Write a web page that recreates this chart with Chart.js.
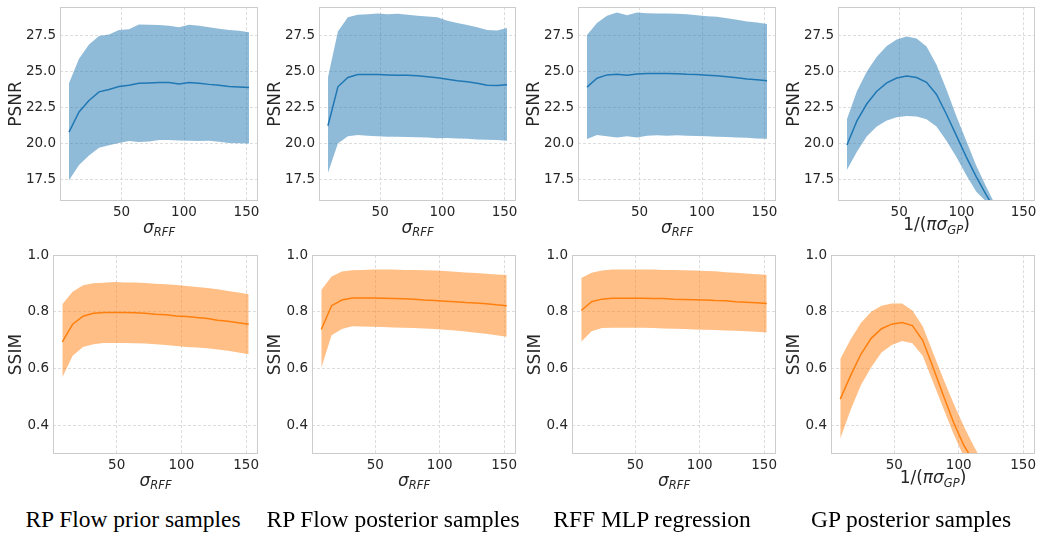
<!DOCTYPE html>
<html>
<head>
<meta charset="utf-8">
<script src="https://cdn.jsdelivr.net/npm/chart.js@4.4.1/dist/chart.umd.min.js"></script>
<style>
  html, body { margin:0; padding:0; background:#fff; }
  body { width:1038px; height:533px; overflow:hidden; position:relative; }
  .panel { position:absolute; }
  .caption { position:absolute; top:507px; font-family:'Liberation Serif', serif; font-size:23.5px; line-height:24px; color:#000; white-space:nowrap; transform:translateX(-50%); }
</style>
</head>
<body>
<script>
// x positions shared by every panel
const sigma = [8, 16, 24, 32, 40, 48, 56, 64, 72, 80, 88, 96, 104, 112, 120, 128, 136, 144, 152];
const xTicks = [50, 100, 150];
const psnrTicks = [17.5, 20, 22.5, 25, 27.5];
const ssimTicks = [0.4, 0.6, 0.8, 1.0];
const captions = ['RP Flow prior samples', 'RP Flow posterior samples', 'RFF MLP regression', 'GP posterior samples'];

// PSNR
const priorPsnrMean = [20.8, 22.2, 23.0, 23.6, 23.76, 23.97, 24.06, 24.2, 24.22, 24.25, 24.25, 24.15, 24.25, 24.2, 24.12, 24.06, 23.97, 23.93, 23.9];
const priorPsnrHigh = [24.2, 25.9, 26.9, 27.48, 27.6, 27.9, 27.96, 28.28, 28.27, 28.25, 28.2, 28.1, 28.27, 28.2, 28.1, 28.0, 27.9, 27.85, 27.75];
const priorPsnrLow = [17.45, 18.5, 19.17, 19.7, 19.88, 20.04, 20.18, 20.1, 20.15, 20.24, 20.24, 20.22, 20.2, 20.18, 20.2, 20.12, 20.04, 20.02, 20.0];

const postPsnrMean = [21.24, 23.95, 24.6, 24.8, 24.8, 24.8, 24.78, 24.76, 24.76, 24.72, 24.65, 24.58, 24.48, 24.38, 24.3, 24.2, 24.06, 24.05, 24.1];
const postPsnrHigh = [24.6, 27.8, 28.8, 28.97, 29.0, 29.05, 29.0, 29.03, 28.97, 28.9, 28.85, 28.8, 28.55, 28.4, 28.25, 28.1, 27.9, 27.87, 28.05];
const postPsnrLow = [17.95, 20.0, 20.5, 20.6, 20.55, 20.5, 20.48, 20.48, 20.46, 20.44, 20.42, 20.37, 20.39, 20.35, 20.33, 20.28, 20.26, 20.24, 20.2];

const mlpPsnrMean = [23.93, 24.55, 24.78, 24.82, 24.76, 24.84, 24.88, 24.88, 24.88, 24.86, 24.82, 24.8, 24.76, 24.72, 24.65, 24.58, 24.5, 24.45, 24.38];
const mlpPsnrHigh = [27.55, 28.4, 28.9, 29.12, 28.93, 29.12, 29.08, 29.05, 29.05, 29.03, 29.0, 28.93, 28.87, 28.82, 28.72, 28.62, 28.5, 28.42, 28.32];
const mlpPsnrLow = [20.32, 20.6, 20.5, 20.42, 20.5, 20.42, 20.54, 20.57, 20.55, 20.57, 20.55, 20.52, 20.5, 20.48, 20.45, 20.42, 20.4, 20.36, 20.33];

const gpPsnrMean = [19.9, 21.58, 22.77, 23.64, 24.22, 24.56, 24.7, 24.6, 24.26, 23.42, 22.04, 20.55, 19.06, 17.68, 16.42, 15.27, 14.1, 13.0, 12.0];
const gpPsnrHigh = [21.7, 23.64, 25.02, 26.05, 26.8, 27.25, 27.46, 27.32, 26.75, 25.48, 23.76, 21.9, 20.18, 18.45, 16.99, 15.6, 14.4, 13.3, 12.3];
const gpPsnrLow = [18.17, 19.43, 20.5, 21.19, 21.6, 21.83, 21.92, 21.88, 21.7, 21.19, 20.2, 19.06, 17.8, 16.65, 15.95, 14.8, 13.8, 12.8, 11.8];

// SSIM
const priorSsimMean = [0.695, 0.757, 0.785, 0.795, 0.798, 0.798, 0.798, 0.797, 0.795, 0.792, 0.79, 0.786, 0.784, 0.78, 0.777, 0.771, 0.767, 0.762, 0.757];
const priorSsimHigh = [0.827, 0.871, 0.894, 0.901, 0.903, 0.905, 0.904, 0.904, 0.902, 0.899, 0.897, 0.895, 0.891, 0.888, 0.884, 0.88, 0.874, 0.868, 0.862];
const priorSsimLow = [0.57, 0.646, 0.677, 0.686, 0.691, 0.691, 0.691, 0.69, 0.689, 0.686, 0.684, 0.68, 0.677, 0.675, 0.672, 0.668, 0.663, 0.657, 0.651];

const postSsimMean = [0.738, 0.822, 0.842, 0.849, 0.849, 0.849, 0.848, 0.847, 0.846, 0.845, 0.842, 0.84, 0.838, 0.836, 0.833, 0.831, 0.829, 0.825, 0.822];
const postSsimHigh = [0.877, 0.925, 0.942, 0.947, 0.948, 0.949, 0.949, 0.949, 0.948, 0.948, 0.947, 0.946, 0.944, 0.941, 0.939, 0.937, 0.934, 0.932, 0.93];
const postSsimLow = [0.603, 0.718, 0.74, 0.75, 0.749, 0.748, 0.747, 0.745, 0.744, 0.743, 0.742, 0.74, 0.737, 0.735, 0.731, 0.727, 0.723, 0.718, 0.713];

const mlpSsimMean = [0.805, 0.836, 0.845, 0.848, 0.848, 0.848, 0.848, 0.847, 0.847, 0.845, 0.844, 0.843, 0.842, 0.84, 0.839, 0.836, 0.834, 0.832, 0.83];
const mlpSsimHigh = [0.919, 0.938, 0.946, 0.949, 0.949, 0.949, 0.949, 0.949, 0.948, 0.948, 0.947, 0.946, 0.944, 0.943, 0.94, 0.938, 0.935, 0.933, 0.931];
const mlpSsimLow = [0.695, 0.732, 0.743, 0.744, 0.744, 0.744, 0.744, 0.743, 0.742, 0.741, 0.74, 0.738, 0.737, 0.736, 0.735, 0.734, 0.732, 0.73, 0.728];

const gpSsimMean = [0.493, 0.576, 0.651, 0.707, 0.741, 0.757, 0.763, 0.752, 0.7, 0.605, 0.507, 0.411, 0.33, 0.27, 0.21, 0.16, 0.11, 0.07, 0.03];
const gpSsimHigh = [0.634, 0.703, 0.761, 0.801, 0.822, 0.83, 0.83, 0.805, 0.75, 0.657, 0.565, 0.478, 0.397, 0.325, 0.26, 0.2, 0.15, 0.1, 0.06];
const gpSsimLow = [0.354, 0.455, 0.542, 0.605, 0.657, 0.684, 0.698, 0.69, 0.646, 0.553, 0.461, 0.37, 0.29, 0.21, 0.15, 0.1, 0.06, 0.02, 0.0];

const TEXT = '#262626';
const BLUE = '#1f77b4', BLUE_FILL = 'rgba(31,119,180,0.5)';
const ORANGE = '#ff7f0e', ORANGE_FILL = 'rgba(255,127,14,0.5)';

const rffLabel = [{t:'σ', it:true, s:17}, {t:'RFF', it:true, s:11.5, sub:true}];
const gpLabel = [{t:'1/(', s:17}, {t:'πσ', it:true, s:17}, {t:'GP', it:true, s:11.5, sub:true}, {t:')', s:17}];

// plot-area boxes [left, top, right, bottom] in page pixels
const topAreas = [[60,5,258,201],[319,5,516,201],[578,5,776,201],[838,5,1035,201]];
const botAreas = [[53,253,258,454],[312,253,516,454],[572,253,776,454],[831,253,1035,454]];
const captionX = [133, 393, 652, 911];

// light frame round the plot area, like matplotlib spines
const framePlugin = {
  id: 'frame',
  afterDraw(chart) {
    const {ctx, chartArea: a} = chart;
    ctx.save();
    ctx.strokeStyle = '#cccccc';
    ctx.lineWidth = 1;
    ctx.strokeRect(Math.round(a.left)+0.5, Math.round(a.top)+0.5, Math.round(a.right-a.left)-1, Math.round(a.bottom-a.top)-1);
    ctx.restore();
  }
};

// x label with subscript (mathtext-like)
const xLabelPlugin = {
  id: 'xLabel',
  afterDraw(chart, args, opts) {
    const {ctx, chartArea: a} = chart;
    const font = p => (p.it ? 'italic ' : '') + p.s + 'px "DejaVu Sans"';
    ctx.save();
    const widths = opts.parts.map(p => { ctx.font = font(p); return ctx.measureText(p.t).width; });
    const total = widths.reduce((s, w) => s + w, 0);
    let x = (a.left + a.right) / 2 - total / 2;
    const base = a.bottom + opts.offset;
    ctx.fillStyle = TEXT;
    ctx.textAlign = 'left';
    ctx.textBaseline = 'alphabetic';
    opts.parts.forEach((p, i) => {
      ctx.font = font(p);
      ctx.fillText(p.t, x, base + (p.sub ? 3.5 : 0));
      x += widths[i];
    });
    ctx.restore();
  }
};

function pts(arr) { return sigma.map((x, i) => ({x, y: arr[i]})); }

function makePanel(area, yw, cfg) {
  const padTop = 10, padRight = 8, xh = 42;
  const left = area[0] - yw, top = area[1] - padTop;
  const w = area[2] + padRight - left, h = area[3] + xh - top;
  const div = document.createElement('div');
  div.className = 'panel';
  div.style.left = left + 'px'; div.style.top = top + 'px';
  div.style.width = w + 'px'; div.style.height = h + 'px';
  const canvas = document.createElement('canvas');
  canvas.width = w; canvas.height = h;
  canvas.style.width = w + 'px'; canvas.style.height = h + 'px';
  div.appendChild(canvas);
  document.body.appendChild(div);

  new Chart(canvas, {
    type: 'line',
    data: { datasets: [
      { data: pts(cfg.low), borderWidth: 0, pointRadius: 0, fill: false, tension: 0 },
      { data: pts(cfg.high), borderWidth: 0, pointRadius: 0, fill: '-1', backgroundColor: cfg.fill, tension: 0 },
      { data: pts(cfg.mean), borderColor: cfg.color, borderWidth: 1.5, pointRadius: 0, fill: false, tension: 0 }
    ]},
    options: {
      responsive: false, animation: false, devicePixelRatio: 1,
      layout: { padding: { top: padTop, right: padRight, left: 0, bottom: 0 } },
      plugins: { legend: { display: false }, tooltip: { enabled: false }, xLabel: { parts: cfg.xLabel, offset: cfg.xOffset } },
      scales: {
        x: {
          type: 'linear', min: 0.8, max: 159.2,
          afterBuildTicks: s => { s.ticks = xTicks.map(v => ({value: v})); },
          afterFit: s => { s.height = xh; },
          ticks: { color: TEXT, font: { family: 'DejaVu Sans', size: 13.5 }, padding: 3, maxRotation: 0, callback: v => String(v) },
          grid: { color: '#d4d4d4', lineWidth: 0.8, drawTicks: false },
          border: { display: false, dash: [3, 2] }
        },
        y: {
          min: cfg.yMin, max: cfg.yMax,
          afterBuildTicks: s => { s.ticks = cfg.yTicks.map(v => ({value: v})); },
          afterFit: s => { s.width = yw; },
          ticks: { color: TEXT, font: { family: 'DejaVu Sans', size: 13.5 }, padding: 4, callback: v => v.toFixed(1) },
          grid: { color: '#d4d4d4', lineWidth: 0.8, drawTicks: false },
          border: { display: false, dash: [3, 2] },
          title: { display: true, text: cfg.yLabel, color: TEXT, font: { family: 'DejaVu Sans', size: 17 }, padding: { top: 4, bottom: 4 } }
        }
      }
    },
    plugins: [framePlugin, xLabelPlugin]
  });
}

const psnrSets = [
  [priorPsnrMean, priorPsnrLow, priorPsnrHigh, rffLabel],
  [postPsnrMean, postPsnrLow, postPsnrHigh, rffLabel],
  [mlpPsnrMean, mlpPsnrLow, mlpPsnrHigh, rffLabel],
  [gpPsnrMean, gpPsnrLow, gpPsnrHigh, gpLabel]
];
const ssimSets = [
  [priorSsimMean, priorSsimLow, priorSsimHigh, rffLabel],
  [postSsimMean, postSsimLow, postSsimHigh, rffLabel],
  [mlpSsimMean, mlpSsimLow, mlpSsimHigh, rffLabel],
  [gpSsimMean, gpSsimLow, gpSsimHigh, gpLabel]
];

psnrSets.forEach((s, i) => makePanel(topAreas[i], 58, {
  mean: s[0], low: s[1], high: s[2], xLabel: s[3], xOffset: s[3] === gpLabel ? 29 : 31.5,
  color: BLUE, fill: BLUE_FILL, yMin: 16, yMax: 29.5, yTicks: psnrTicks, yLabel: 'PSNR'
}));
ssimSets.forEach((s, i) => makePanel(botAreas[i], 51, {
  mean: s[0], low: s[1], high: s[2], xLabel: s[3], xOffset: s[3] === gpLabel ? 29 : 31.5,
  color: ORANGE, fill: ORANGE_FILL, yMin: 0.3, yMax: 1.0, yTicks: ssimTicks, yLabel: 'SSIM'
}));

captions.forEach((c, i) => {
  const d = document.createElement('div');
  d.className = 'caption';
  d.style.left = captionX[i] + 'px';
  d.textContent = c;
  document.body.appendChild(d);
});
</script>
</body>
</html>
